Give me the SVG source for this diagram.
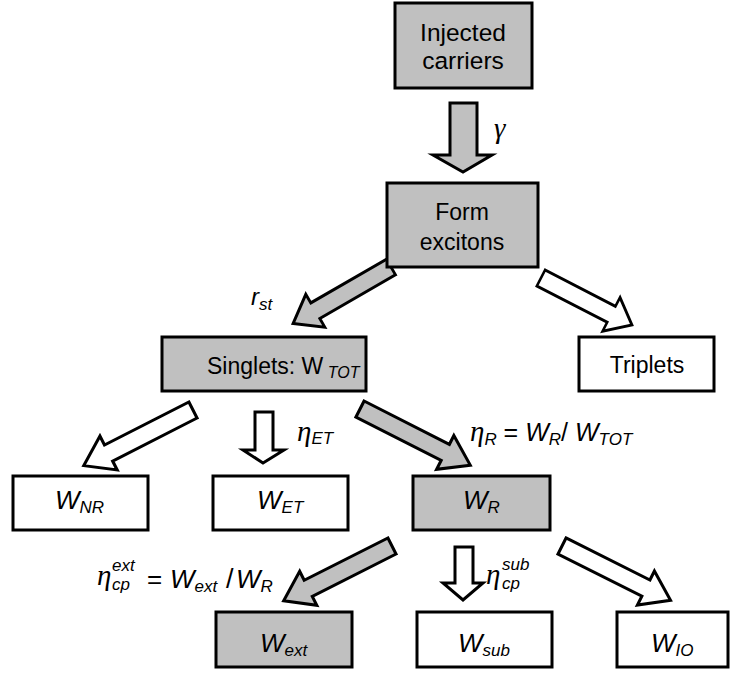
<svg xmlns="http://www.w3.org/2000/svg" width="743" height="673" viewBox="0 0 743 673">
<style>
.box{stroke:#000;stroke-width:3}
.g{fill:#c0c0c0}
.w{fill:#fff}
.arr{stroke:#000;stroke-width:3;stroke-linejoin:miter}
text{font-family:"Liberation Sans",Arial,sans-serif;fill:#000}
.t{font-size:23px;text-anchor:middle}
.i{font-style:italic;font-size:26px}
.s{font-size:17px;font-style:italic}
.gr{font-family:"Liberation Serif","Times New Roman",serif;font-style:italic;font-size:29px}
</style>
<defs>
<path id="diag" d="M0,-9 L92,-9 L92,-19 L119,0 L92,19 L92,9 L0,9 Z"/>
</defs>
<rect width="743" height="673" fill="#fff"/>
<g id="connectors">
<path class="arr g" d="M450,103 L477,103 L477,155 L492,155 L463,172 L433,155 L450,155 Z"/>
<use href="#diag" class="arr g" transform="translate(391,267) rotate(150) scale(0.95,1)"/>
<use href="#diag" class="arr w" transform="translate(541,278) rotate(27.3) scale(0.86,1)"/>
<use href="#diag" class="arr w" transform="translate(193,410) rotate(153) scale(1.03,1)"/>
<path class="arr w" d="M255,412 L273,412 L273,450 L284,450 L263,463 L243,450 L255,450 Z"/>
<use href="#diag" class="arr g" transform="translate(360,409) rotate(27) scale(1.04,1)"/>
<use href="#diag" class="arr g" transform="translate(392,546) rotate(153.2) scale(1.02,1)"/>
<path class="arr w" d="M455,547 L473,547 L473,583 L483,583 L463,600 L443,583 L455,583 Z"/>
<use href="#diag" class="arr w" transform="translate(562,546) rotate(26.6) scale(1.02,1)"/>
</g>
<g id="injected"><rect class="box g" x="395" y="3" width="137" height="85"/><text class="t" x="463" y="41" style="font-size:24.5px">Injected</text><text class="t" x="463" y="69" style="font-size:24.5px">carriers</text></g>
<g id="form"><rect class="box g" x="387" y="183" width="151" height="84"/><text class="t" x="462" y="220">Form</text><text class="t" x="462" y="250">excitons</text></g>
<g id="singlets"><rect class="box g" x="162" y="337" width="204" height="54"/><text x="207" y="374" style="font-size:23px">Singlets: W<tspan class="s" dy="4" style="font-size:16px"> TOT</tspan></text></g>
<g id="triplets"><rect class="box w" x="579" y="337" width="135" height="54"/><text class="t" x="647" y="373">Triplets</text></g>
<g id="wnr"><rect class="box w" x="13" y="476" width="135" height="54"/><text class="i" x="55" y="509">W<tspan class="s" dy="4">NR</tspan></text></g>
<g id="wet"><rect class="box w" x="213" y="476" width="135" height="54"/><text class="i" x="257" y="509">W<tspan class="s" dy="4">ET</tspan></text></g>
<g id="wr"><rect class="box g" x="413" y="476" width="137" height="54"/><text class="i" x="463" y="509">W<tspan class="s" dy="4">R</tspan></text></g>
<g id="wext"><rect class="box g" x="216" y="612" width="136" height="55"/><text class="i" x="260" y="652">W<tspan class="s" dy="4">ext</tspan></text></g>
<g id="wsub"><rect class="box w" x="417" y="612" width="135" height="55"/><text class="i" x="458" y="652">W<tspan class="s" dy="4">sub</tspan></text></g>
<g id="wio"><rect class="box w" x="617" y="612" width="111" height="55"/><text class="i" x="651" y="652">W<tspan class="s" dy="4">IO</tspan></text></g>
<g id="labels">
<text class="gr" x="494" y="138">γ</text>
<text class="i" x="251" y="305" style="font-size:24px">r<tspan class="s" dy="5">st</tspan></text>
<text class="gr" x="297" y="441">η<tspan class="s" dy="3" font-family="Liberation Sans">ET</tspan></text>
<text class="i" x="470" y="441" style="font-size:25px"><tspan class="gr">η</tspan><tspan class="s" dy="4">R</tspan><tspan dy="-4" font-style="normal"> = </tspan>W<tspan class="s" dy="4">R</tspan><tspan dy="-4" font-style="normal">/ </tspan>W<tspan class="s" dy="4">TOT</tspan></text>
<text class="gr" x="97" y="585">η</text>
<text class="s" x="112" y="571">ext</text>
<text class="s" x="112" y="590">cp</text>
<text class="i" x="147" y="588"><tspan font-style="normal">=</tspan><tspan x="170">W</tspan><tspan class="s" dy="4">ext</tspan><tspan x="226" dy="-4" font-style="normal" font-size="27px">/</tspan><tspan x="236">W</tspan><tspan class="s" dy="4">R</tspan></text>
<text class="gr" x="486" y="584">η</text>
<text class="s" x="502" y="570">sub</text>
<text class="s" x="502" y="589">cp</text>
</g>
</svg>
